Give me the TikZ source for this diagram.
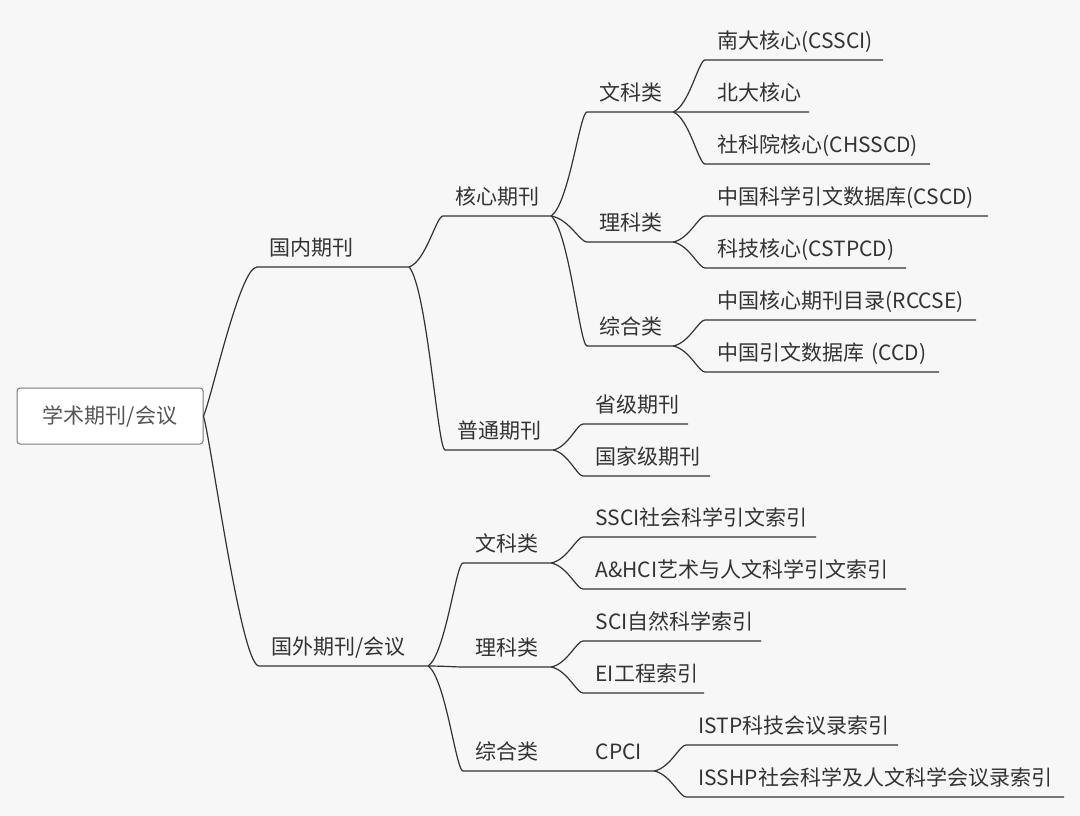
\documentclass[tikz,border=0pt]{standalone}
\usepackage{fontspec}
\usetikzlibrary{calc}
\newfontfamily\cjk{Noto Sans CJK SC}
\definecolor{bg}{HTML}{F7F7F7}
\definecolor{ink}{HTML}{333333}
\definecolor{rootink}{HTML}{555555}
\definecolor{rootline}{HTML}{7A7A7A}

\begin{document}
\begin{tikzpicture}[x=1pt,y=-1pt,color=ink,line width=1.2pt,
  every node/.style={font=\cjk\fontsize{21pt}{25pt}\selectfont, text=ink},
  root/.style={draw=rootline, line width=1pt, fill=white, rounded corners=3pt, minimum width=186pt, minimum height=56pt, text=rootink},
  topic/.style={anchor=south west, inner xsep=0pt, inner ysep=6pt, text height=16pt, text depth=5pt, align=left, text width=#1, execute at begin node={\noindent\hspace*{12pt}}},
  branch/.style={to path={let \p1=(\tikztostart), \p2=(\tikztotarget) in
    .. controls (0.5*\x1+0.5*\x2, 0.88*\y1+0.12*\y2) and (0.2*\x1+0.8*\x2, \y2) .. (\tikztotarget)}},
  rootlink/.style={to path={let \p1=(\tikztostart), \p2=(\tikztotarget) in
    .. controls (0.85*\x1+0.15*\x2, 0.88*\y1+0.12*\y2) and (0.32*\x1+0.68*\x2, \y2) .. (\tikztotarget)}}]
\fill[bg] (0,0) rectangle (1080,816);
\node[root] (root) at (110,416) {学术期刊/会议};
\node[topic=151pt] (gn) at (257,267) {国内期刊};
\node[topic=168pt] (gw) at (259,666) {国外期刊/会议};
\node[topic=107pt] (hx) at (443,216) {核心期刊};
\node[topic=107pt] (pt) at (445,450) {普通期刊};
\node[topic=85pt] (wk) at (587,112) {文科类};
\node[topic=85pt] (lk) at (587,242) {理科类};
\node[topic=85pt] (zh) at (587,346) {综合类};
\node[topic=177pt] (nd) at (705,60) {南大核心(CSSCI)};
\node[topic=103pt] (bd) at (705,112) {北大核心};
\node[topic=224pt] (sk) at (705,164) {社科院核心(CHSSCD)};
\node[topic=282pt] (cscd) at (705,216) {中国科学引文数据库(CSCD)};
\node[topic=200pt] (kj) at (705,268) {科技核心(CSTPCD)};
\node[topic=270pt] (rccse) at (705,320) {中国核心期刊目录(RCCSE)};
\node[topic=233pt] (ccd) at (705,372) {中国引文数据库 (CCD)};
\node[topic=104pt] (sj) at (583,424) {省级期刊};
\node[topic=126pt] (gj) at (583,476) {国家级期刊};
\node[topic=87pt] (fwk) at (463,563) {文科类};
\node[topic=87pt] (flk) at (463,667) {理科类};
\node[topic=120pt] (fzh) at (463,771) {综合类};
\node[topic=70pt] (cpci) at (583,771) {CPCI};
\node[topic=232pt] (ssci) at (583,537) {SSCI社会科学引文索引};
\node[topic=322pt] (ahci) at (583,589) {A\&HCI艺术与人文科学引文索引};
\node[topic=177pt] (sci) at (583,641) {SCI自然科学索引};
\node[topic=120pt] (ei) at (583,693) {EI工程索引};
\node[topic=211pt] (istp) at (686,745) {ISTP科技会议录索引};
\node[topic=377pt] (isshp) at (686,797) {ISSHP社会科学及人文科学会议录索引};
% domestic branch
\draw (root.east) to[rootlink] (gn.south west) -- (gn.south east);
\draw (gn.south east) to[branch] (hx.south west) -- (hx.south east);
\draw (gn.south east) to[branch] (pt.south west) -- (pt.south east);
\draw (hx.south east) to[branch] (wk.south west) -- (wk.south east) -- (bd.south west) -- (bd.south east);
\draw (hx.south east) to[branch] (lk.south west) -- (lk.south east);
\draw (hx.south east) to[branch] (zh.south west) -- (zh.south east);
\draw (wk.south east) to[branch] (nd.south west) -- (nd.south east);
\draw (wk.south east) to[branch] (sk.south west) -- (sk.south east);
\draw (lk.south east) to[branch] (cscd.south west) -- (cscd.south east);
\draw (lk.south east) to[branch] (kj.south west) -- (kj.south east);
\draw (zh.south east) to[branch] (rccse.south west) -- (rccse.south east);
\draw (zh.south east) to[branch] (ccd.south west) -- (ccd.south east);
\draw (pt.south east) to[branch] (sj.south west) -- (sj.south east);
\draw (pt.south east) to[branch] (gj.south west) -- (gj.south east);
% foreign branch
\draw (root.east) to[rootlink] (gw.south west) -- (gw.south east);
\draw (gw.south east) to[branch] (fwk.south west) -- (fwk.south east);
\draw (gw.south east) to[branch] (flk.south west) -- (flk.south east);
\draw (gw.south east) to[branch] (fzh.south west) -- (fzh.south east) -- (cpci.south west) -- (cpci.south east);
\draw (fwk.south east) to[branch] (ssci.south west) -- (ssci.south east);
\draw (fwk.south east) to[branch] (ahci.south west) -- (ahci.south east);
\draw (flk.south east) to[branch] (sci.south west) -- (sci.south east);
\draw (flk.south east) to[branch] (ei.south west) -- (ei.south east);
\draw (cpci.south east) to[branch] (istp.south west) -- (istp.south east);
\draw (cpci.south east) to[branch] (isshp.south west) -- (isshp.south east);
\end{tikzpicture}
\end{document}
